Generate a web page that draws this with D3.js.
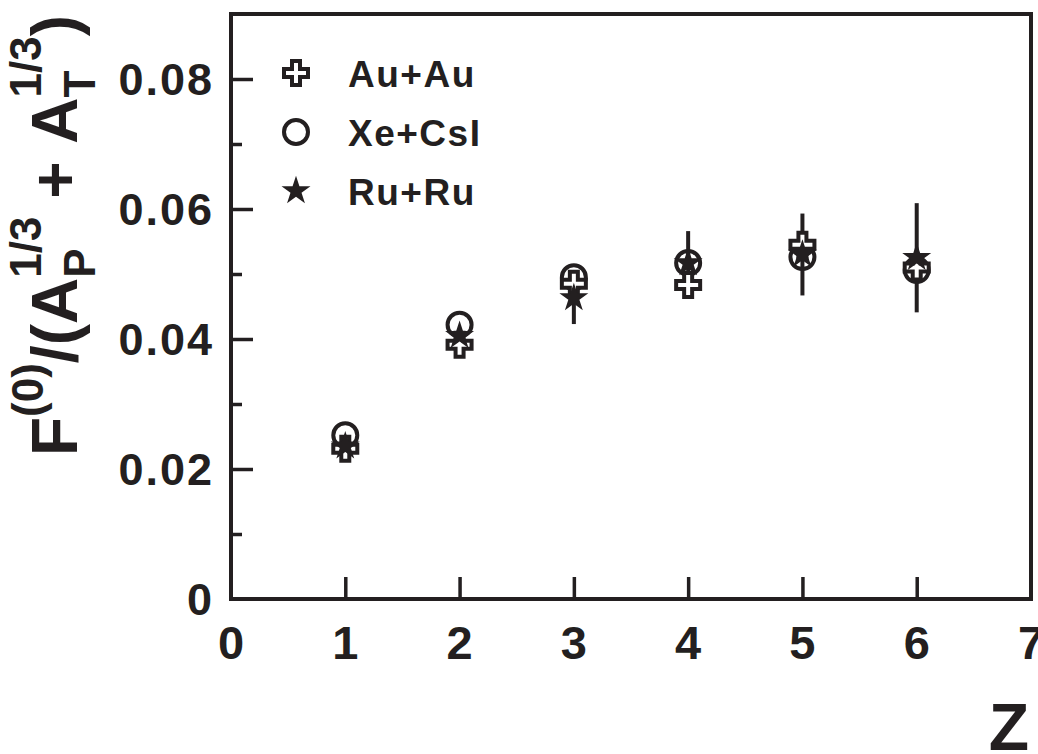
<!DOCTYPE html>
<html><head><meta charset="utf-8">
<script src="https://d3js.org/d3.v7.min.js"></script>
<style>
html,body{margin:0;padding:0;background:#fff;}
text{font-family:"Liberation Sans",Arial,Helvetica,sans-serif;font-weight:bold;fill:#231f20;}
</style></head>
<body>
<svg id="chart" width="1038" height="754"></svg>
<script>
// ---- data ----
const zValues = [1, 2, 3, 4, 5, 6];
const auau = [0.0231, 0.0391, 0.0485, 0.0483, 0.0545, 0.0510];
const xecsi = [0.0252, 0.0422, 0.0495, 0.0517, 0.0526, 0.0506];
const ruru = [0.0235, 0.0405, 0.0463, 0.0517, 0.0530, 0.0525];
const ruruErr = [0, 0, 0.0040, 0.0049, 0.0063, 0.0084];
const xTicks = [0, 1, 2, 3, 4, 5, 6, 7];
const yTicks = [0, 0.02, 0.04, 0.06, 0.08];
const yMinor = [0.01, 0.03, 0.05, 0.07];
const legendLabels = ["Au+Au", "Xe+CsI", "Ru+Ru"];

(function () {
const ink = "#231f20";
const svg = d3.select("#chart");
const pLeft = 231, pRight = 1031, pTop = 14, pBottom = 599;
const x = d3.scaleLinear().domain([0, 7]).range([pLeft, pRight]);
const y = d3.scaleLinear().domain([0, 0.09]).range([pBottom, pTop]);

// frame
svg.append("rect").attr("x", pLeft).attr("y", pTop).attr("width", pRight - pLeft).attr("height", pBottom - pTop)
  .attr("fill", "none").attr("stroke", ink).attr("stroke-width", 4);

// x axis ticks (inward)
const xAxis = d3.axisBottom(x).tickValues(xTicks.slice(1, -1)).tickSize(-22).tickFormat("");
const gx = svg.append("g").attr("transform", `translate(0,${pBottom})`).call(xAxis);
gx.select(".domain").remove();
gx.selectAll("line").attr("stroke", ink).attr("stroke-width", 3.5);
svg.append("g").selectAll("text").data(xTicks).join("text")
  .attr("x", d => x(d)).attr("y", 659).attr("text-anchor", "middle")
  .attr("font-size", 47).text(d => d);

// y axis
const yAxis = d3.axisLeft(y).tickValues(yTicks.slice(1)).tickSize(-22).tickFormat("");
const gy = svg.append("g").attr("transform", `translate(${pLeft},0)`).call(yAxis);
gy.select(".domain").remove();
gy.selectAll("line").attr("stroke", ink).attr("stroke-width", 3.5);
const gy2 = svg.append("g").attr("transform", `translate(${pLeft},0)`)
  .call(d3.axisLeft(y).tickValues(yMinor).tickSize(-11).tickFormat(""));
gy2.select(".domain").remove();
gy2.selectAll("line").attr("stroke", ink).attr("stroke-width", 3.5);
svg.append("g").selectAll("text").data(yTicks).join("text")
  .attr("x", 214).attr("y", d => y(d) + 16).attr("text-anchor", "end")
  .attr("font-size", 45).attr("letter-spacing", 2).text(d => d === 0 ? "0" : d.toFixed(2));

// x title
svg.append("text").attr("x", 1009).attr("y", 750).attr("text-anchor", "middle")
  .attr("font-size", 66).text("Z");

// y title (rotated, built piecewise)
const big = 64, small = 44;
const tg = svg.append("g").attr("transform", "translate(77,456) rotate(-90)");
let cx = 0;
function piece(str, size, dy) {
  const t = tg.append("text").attr("x", cx).attr("y", dy).attr("font-size", size).text(str);
  const w = t.node().getComputedTextLength();
  return {t, w};
}
function add(str, size, dy) { const p = piece(str, size, dy); cx += p.w; return p; }
add("F", big, 0);
add("(0)", small, -34);
add("/(", big, 0);
add("A", big, 0);
{ const p1 = piece("P", small, 18); const p2 = piece("1/3", small, -36); cx += Math.max(p1.w, p2.w); }
add("\u00a0+\u00a0", big, 0);
add("A", big, 0);
{ const p1 = piece("T", small, 18); const p2 = piece("1/3", small, -36); cx += Math.max(p1.w, p2.w); }
add(")", big, 0);

// symbols
const plusPath = (s) => {
  const a = s / 2, b = s / 6;
  return `M${-b},${-a}H${b}V${-b}H${a}V${b}H${b}V${a}H${-b}V${b}H${-a}V${-b}H${-b}Z`;
};
const star = d3.symbol().type(d3.symbolStar).size(260);

const pts = zValues.map((z, i) => ({z, au: auau[i], xe: xecsi[i], ru: ruru[i], e: ruruErr[i]}));
// error bars (Ru+Ru)
svg.append("g").selectAll("line").data(pts.filter(d => d.e > 0)).join("line")
  .attr("x1", d => x(d.z)).attr("x2", d => x(d.z))
  .attr("y1", d => y(d.ru - d.e)).attr("y2", d => y(d.ru + d.e))
  .attr("stroke", ink).attr("stroke-width", 4);

// circles Xe+CsI
svg.append("g").selectAll("circle").data(pts).join("circle")
  .attr("cx", d => x(d.z)).attr("cy", d => y(d.xe)).attr("r", 12)
  .attr("fill", "none").attr("stroke", ink).attr("stroke-width", 4);
// plus Au+Au
svg.append("g").selectAll("path").data(pts).join("path")
  .attr("transform", d => `translate(${x(d.z)},${y(d.au)})`).attr("d", plusPath(24))
  .attr("fill", "#fff").attr("stroke", ink).attr("stroke-width", 4);
// stars Ru+Ru
svg.append("g").selectAll("path").data(pts).join("path")
  .attr("transform", d => `translate(${x(d.z)},${y(d.ru)})`).attr("d", star)
  .attr("fill", ink);

// legend
const lg = svg.append("g");
const ly = [73, 132, 191];
lg.append("path").attr("transform", `translate(296,${ly[0]})`).attr("d", plusPath(24))
  .attr("fill", "#fff").attr("stroke", ink).attr("stroke-width", 4);
lg.append("circle").attr("cx", 296).attr("cy", ly[1]).attr("r", 12)
  .attr("fill", "none").attr("stroke", ink).attr("stroke-width", 4);
lg.append("path").attr("transform", `translate(296,${ly[2]})`).attr("d", star).attr("fill", ink);
lg.selectAll("text").data(legendLabels).join("text")
  .attr("x", 348).attr("y", (d, i) => ly[i] + 14).attr("font-size", 37).attr("letter-spacing", 1.5).text(d => d);
})();
</script>
</body></html>
